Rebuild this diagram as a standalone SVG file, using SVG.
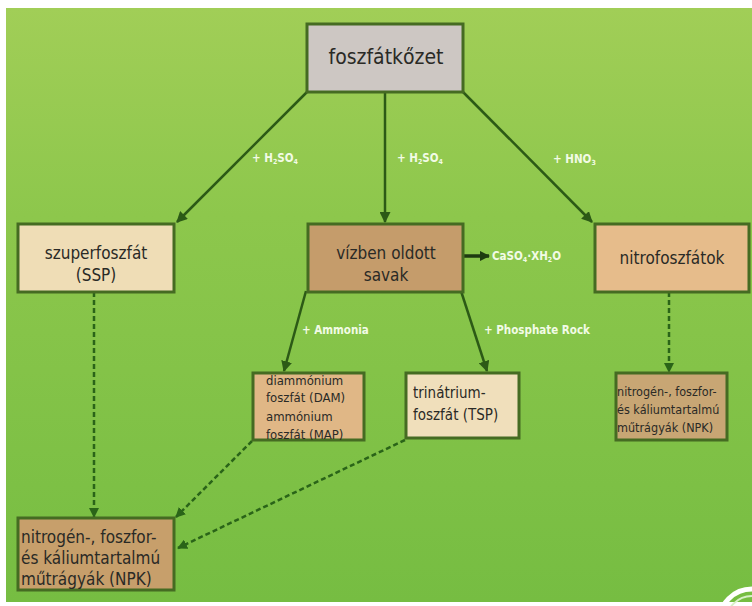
<svg xmlns="http://www.w3.org/2000/svg" width="752" height="606" viewBox="0 0 752 606">
<defs>
<linearGradient id="bg" x1="0" y1="0" x2="0" y2="1">
<stop offset="0" stop-color="#a1ce57"/>
<stop offset="0.35" stop-color="#8dc74c"/>
<stop offset="1" stop-color="#76bd42"/>
</linearGradient>
<marker id="ah" viewBox="0 0 10 10" refX="9" refY="5" markerWidth="4.4" markerHeight="4.4" orient="auto" markerUnits="strokeWidth">
<path d="M0,0 L10,5 L0,10 Z" fill="#2c5a16"/>
</marker>
<marker id="ahd" viewBox="0 0 10 10" refX="9" refY="5" markerWidth="4" markerHeight="4" orient="auto" markerUnits="strokeWidth">
<path d="M0,0 L10,5 L0,10 Z" fill="#2a6418"/>
</marker>
<marker id="ahb" viewBox="0 0 10 10" refX="9" refY="5" markerWidth="3" markerHeight="3" orient="auto" markerUnits="strokeWidth">
<path d="M0,0 L10,5 L0,10 Z" fill="#1e3a10"/>
</marker>
<style>
.box{stroke:#456b22;stroke-width:3}
.t{font-family:"DejaVu Sans Condensed","DejaVu Sans",sans-serif;fill:#2a2a26}
.c{text-anchor:middle}
.lbl{font-family:"DejaVu Sans Condensed","DejaVu Sans",sans-serif;font-weight:bold;font-size:11.5px;fill:#f2fbe6}
.ln{stroke:#2c5a16;stroke-width:2.5;fill:none}
.dl{stroke:#2a6418;stroke-width:2.5;fill:none;stroke-dasharray:5 3}
</style>
</defs>
<rect x="0" y="0" width="752" height="606" fill="#ffffff"/>
<rect x="6" y="8" width="746" height="594" fill="url(#bg)"/>
<g fill="none" stroke="#ffffff">
<circle cx="752" cy="622" r="33" stroke-width="5"/>
<circle cx="752" cy="622" r="26" stroke-width="2" stroke="#d8f0c8"/>
</g>

<g id="connectors">
<line class="ln" x1="307" y1="92" x2="177" y2="222" marker-end="url(#ah)"/>
<line class="ln" x1="385" y1="92" x2="385" y2="222" marker-end="url(#ah)"/>
<line class="ln" x1="463" y1="92" x2="592" y2="222" marker-end="url(#ah)"/>
<line class="ln" x1="306" y1="291" x2="284" y2="371" marker-end="url(#ah)"/>
<line class="ln" x1="461" y1="291" x2="487" y2="371" marker-end="url(#ah)"/>
<line x1="464" y1="256" x2="489" y2="256" stroke="#1e3a10" stroke-width="3.5" marker-end="url(#ahb)"/>
<line class="dl" x1="94" y1="292" x2="94" y2="517" marker-end="url(#ahd)"/>
<line class="dl" x1="252" y1="441" x2="176" y2="517" marker-end="url(#ahd)"/>
<line class="dl" x1="405" y1="440" x2="178" y2="548" marker-end="url(#ahd)"/>
<line class="dl" x1="669" y1="292" x2="669" y2="372" marker-end="url(#ahd)"/>
<text class="lbl" x="252" y="162">+ H<tspan font-size="7" dy="2">2</tspan><tspan dy="-2">SO</tspan><tspan font-size="7" dy="2">4</tspan></text>
<text class="lbl" x="397" y="162">+ H<tspan font-size="7" dy="2">2</tspan><tspan dy="-2">SO</tspan><tspan font-size="7" dy="2">4</tspan></text>
<text class="lbl" x="553" y="163">+ HNO<tspan font-size="7" dy="2">3</tspan></text>
<text class="lbl" x="492" y="260">CaSO<tspan font-size="7" dy="2">4</tspan><tspan dy="-2">·XH</tspan><tspan font-size="7" dy="2">2</tspan><tspan dy="-2">O</tspan></text>
<text class="lbl" x="302" y="334">+ Ammonia</text>
<text class="lbl" x="484" y="334">+ Phosphate Rock</text>
</g>

<g id="n_foszfatkozet">
<rect class="box" x="307" y="24" width="156" height="68" fill="#cdc7c3"/>
<text class="t c" x="386" y="64" font-size="21">foszfátkőzet</text>
</g>
<g id="n_szuperfoszfat">
<rect class="box" x="18" y="224" width="156" height="68" fill="#efddb6"/>
<text class="t c" x="96" y="259" font-size="17">szuperfoszfát</text>
<text class="t c" x="96" y="281" font-size="17">(SSP)</text>
</g>
<g id="n_vizben">
<rect class="box" x="308" y="224" width="155" height="68" fill="#c59c6b"/>
<text class="t c" x="386" y="259" font-size="17">vízben oldott</text>
<text class="t c" x="386" y="281" font-size="17">savak</text>
</g>
<g id="n_nitrofoszfatok">
<rect class="box" x="595" y="224" width="154" height="68" fill="#e6bc8b"/>
<text class="t c" x="672" y="264" font-size="17">nitrofoszfátok</text>
</g>
<g id="n_dam_map">
<rect class="box" x="253" y="373" width="111" height="67" fill="#e0b786"/>
<text class="t" x="266" y="385" font-size="13" fill="#5e4a32">diammónium</text>
<text class="t" x="266" y="402" font-size="13" fill="#5e4a32">foszfát (DAM)</text>
<text class="t" x="266" y="421" font-size="13" fill="#5e4a32">ammónium</text>
<text class="t" x="266" y="439" font-size="13" fill="#5e4a32">foszfát (MAP)</text>
</g>
<g id="n_tsp">
<rect class="box" x="406" y="373" width="113" height="65" fill="#f0dfbb"/>
<text class="t" x="413" y="398" font-size="15">trinátrium-</text>
<text class="t" x="413" y="420" font-size="15">foszfát (TSP)</text>
</g>
<g id="n_npk_right">
<rect class="box" x="616" y="373" width="111" height="67" fill="#c8a674"/>
<text class="t" x="617" y="396" font-size="12.5">nitrogén-, foszfor-</text>
<text class="t" x="617" y="414" font-size="12.5">és káliumtartalmú</text>
<text class="t" x="617" y="432" font-size="12.5">műtrágyák (NPK)</text>
</g>
<g id="n_npk">
<rect class="box" x="18" y="518" width="156" height="72" fill="#c79f6b"/>
<text class="t" x="21" y="543" font-size="17">nitrogén-, foszfor-</text>
<text class="t" x="21" y="564" font-size="17">és káliumtartalmú</text>
<text class="t" x="21" y="585" font-size="17">műtrágyák (NPK)</text>
</g>
</svg>
